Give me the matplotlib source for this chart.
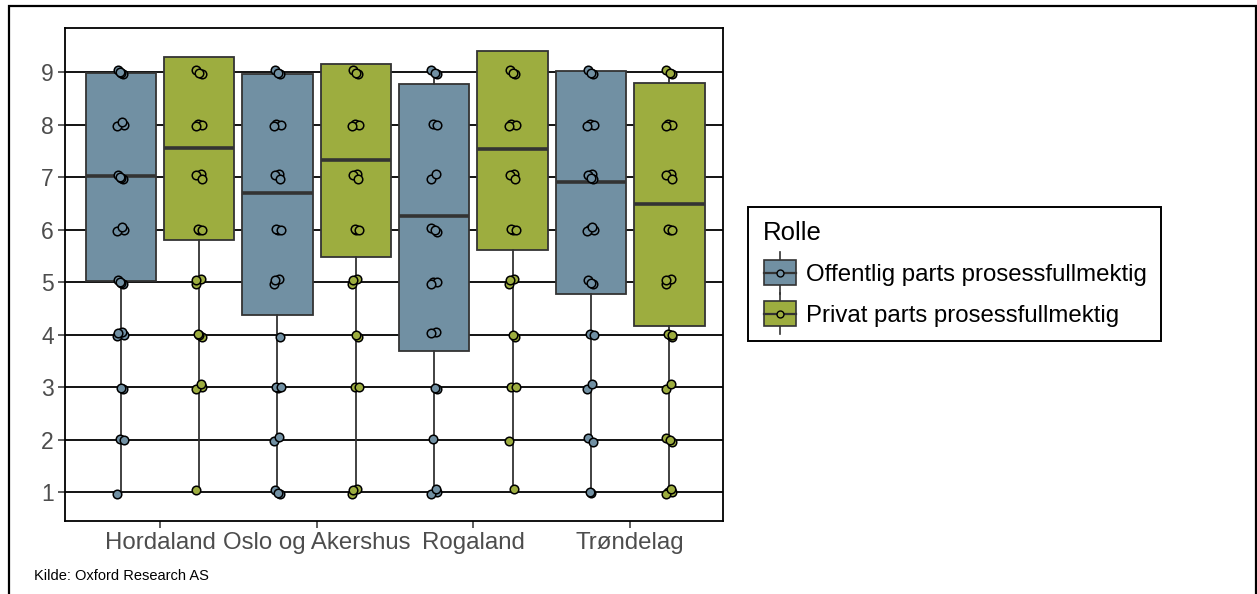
import matplotlib
matplotlib.use("Agg")
import matplotlib.pyplot as plt
from matplotlib.patches import Rectangle
from matplotlib.lines import Line2D
from matplotlib.legend_handler import HandlerBase
from matplotlib import font_manager
import numpy as np

# ---------------- data ----------------
regions = ["Hordaland", "Oslo og Akershus", "Rogaland", "Trøndelag"]
roles = ["Offentlig parts prosessfullmektig", "Privat parts prosessfullmektig"]

# box statistics
off_q1 = [5.02, 4.38, 3.69, 4.77]
off_med = [7.02, 6.69, 6.26, 6.90]
off_q3 = [8.98, 8.96, 8.77, 9.02]
priv_q1 = [5.80, 5.47, 5.61, 4.16]
priv_med = [7.56, 7.32, 7.53, 6.49]
priv_q3 = [9.28, 9.15, 9.40, 8.80]
whisk_lo = 1.0
whisk_hi = 9.0

# individual answers (score values) per group
off_hordaland = [9, 9, 9, 9, 8, 8, 8, 7, 7, 7, 7, 6, 6, 6, 5, 5, 5, 5, 4, 4, 4, 4, 3, 3, 2, 2, 1]
priv_hordaland = [9, 9, 9, 8, 8, 8, 7, 7, 7, 6, 6, 6, 5, 5, 5, 4, 4, 4, 3, 3, 3, 1]
off_oslo = [9, 9, 9, 8, 8, 8, 7, 7, 7, 6, 6, 6, 5, 5, 5, 4, 3, 3, 3, 2, 2, 1, 1, 1]
priv_oslo = [9, 9, 9, 8, 8, 8, 7, 7, 7, 6, 6, 6, 5, 5, 5, 4, 4, 3, 3, 1, 1, 1]
off_rogaland = [9, 9, 9, 8, 8, 7, 7, 6, 6, 6, 5, 5, 5, 4, 4, 3, 3, 2, 1, 1, 1]
priv_rogaland = [9, 9, 9, 8, 8, 8, 7, 7, 7, 6, 6, 6, 5, 5, 5, 4, 4, 3, 3, 2, 1]
off_trondelag = [9, 9, 9, 8, 8, 8, 7, 7, 7, 7, 6, 6, 6, 6, 5, 5, 5, 4, 4, 3, 3, 2, 2, 1, 1]
priv_trondelag = [9, 9, 9, 8, 8, 8, 7, 7, 7, 6, 6, 6, 5, 5, 5, 4, 4, 4, 4, 3, 3, 2, 2, 2, 1, 1, 1, 1]

off_points = [off_hordaland, off_oslo, off_rogaland, off_trondelag]
priv_points = [priv_hordaland, priv_oslo, priv_rogaland, priv_trondelag]

yticks = [1, 2, 3, 4, 5, 6, 7, 8, 9]
caption = "Kilde: Oxford Research AS"
legend_title = "Rolle"

# ---------------- style ----------------
C_OFF = "#7190A3"
C_PRIV = "#9DAD3F"
EDGE = "#333333"
GREY_TXT = "#4D4D4D"
DODGE = 0.25
BOX_W = 0.45
# fixed small dodge pattern for overlapping points (visual jitter)
JX = [-0.018, 0.016, 0.002, -0.008, 0.020, -0.022, 0.010]
JY = [0.035, -0.030, 0.010, -0.045, 0.050, 0.000, -0.015]

available = {f.name for f in font_manager.fontManager.ttflist}
BASE = "Liberation Sans" if "Liberation Sans" in available else "DejaVu Sans"
plt.rcParams["font.family"] = [BASE, "DejaVu Sans"]

W, H = 1257, 594
fig = plt.figure(figsize=(W / 100, H / 100), dpi=100)
ax = fig.add_axes([65 / W, 1 - 521 / H, (723 - 65) / W, (521 - 28) / H])

x = np.arange(1, len(regions) + 1)

for vals_q1, vals_med, vals_q3, pts, off, col in [
    (off_q1, off_med, off_q3, off_points, -DODGE, C_OFF),
    (priv_q1, priv_med, priv_q3, priv_points, DODGE, C_PRIV),
]:
    stats = []
    for i in range(len(regions)):
        stats.append(dict(med=vals_med[i], q1=vals_q1[i], q3=vals_q3[i],
                          whislo=min(whisk_lo, vals_q1[i]),
                          whishi=max(whisk_hi, vals_q3[i]), fliers=[]))
    ax.bxp(stats, positions=x + off, widths=BOX_W, patch_artist=True,
           showcaps=False, showfliers=False,
           boxprops=dict(facecolor=col, edgecolor=EDGE, linewidth=1.3),
           whiskerprops=dict(color=EDGE, linewidth=1.3),
           medianprops=dict(color=EDGE, linewidth=2.6),
           zorder=2)
    for i, p in enumerate(pts):
        p = np.asarray(p, dtype=float)
        k = np.arange(len(p))
        px = x[i] + off + np.take(JX, k % len(JX))
        py = p + np.take(JY, (k * 3) % len(JY))
        ax.scatter(px, py, s=38, facecolor=col, edgecolor="black",
                   linewidth=1.1, zorder=4)

for yv in yticks:
    ax.axhline(yv, color="black", linewidth=1.3, zorder=0.5)

ax.set_xlim(0.394, 4.593)
ax.set_ylim(0.45, 9.84)
ax.set_xticks(x)
ax.set_xticklabels(regions, fontsize=17.3, color=GREY_TXT)
ax.set_yticks(yticks)
ax.set_yticklabels([str(v) for v in yticks], fontsize=16.5, color=GREY_TXT)
ax.tick_params(axis="both", length=5, width=1.1, color="#333333", pad=3)
for s in ax.spines.values():
    s.set_color("black")
    s.set_linewidth(1.3)


class BoxHandler(HandlerBase):
    def __init__(self, color):
        super().__init__()
        self.color = color

    def create_artists(self, legend, orig_handle, xdescent, ydescent,
                       width, height, fontsize, trans):
        bw = 23
        bh = 18
        cx = -xdescent + width / 2
        cy = -ydescent + height / 2
        arts = []
        arts.append(Line2D([cx, cx], [cy - bh / 2 - 6, cy + bh / 2 + 6],
                           color=EDGE, linewidth=1.2, transform=trans))
        arts.append(Rectangle((cx - bw / 2, cy - bh / 2), bw, bh,
                              facecolor=self.color, edgecolor=EDGE,
                              linewidth=1.2, transform=trans))
        arts.append(Line2D([cx - bw / 2, cx + bw / 2], [cy, cy],
                           color=EDGE, linewidth=1.6, transform=trans))
        arts.append(Line2D([cx], [cy], marker="o", markersize=5,
                           markerfacecolor=self.color, markeredgecolor="black",
                           markeredgewidth=1.0, linestyle="none",
                           transform=trans))
        return arts


h_off = Rectangle((0, 0), 1, 1)
h_priv = Rectangle((0, 1), 1, 1)
leg = fig.legend([h_off, h_priv], roles,
                 handler_map={h_off: BoxHandler(C_OFF), h_priv: BoxHandler(C_PRIV)},
                 title=legend_title, loc="upper left",
                 bbox_to_anchor=(748 / W, 1 - 207 / H),
                 fontsize=17.3, title_fontsize=18.5, frameon=True,
                 fancybox=False, edgecolor="black", framealpha=1,
                 handlelength=1.45, handleheight=1.3, handletextpad=0.35,
                 borderpad=0.6, labelspacing=0.6, borderaxespad=0)
leg.get_frame().set_linewidth(1.4)
leg._legend_box.align = "left"

fig.text(34 / W, 1 - 576 / H, caption, fontsize=10.5,
         va="center", ha="left")

fig.patches.append(Rectangle((9 / W, -0.02), (1256 - 9) / W, 1 - 6 / H + 0.02,
                             transform=fig.transFigure, fill=False,
                             edgecolor="black", linewidth=1.6, zorder=10))

fig.savefig("out.png", dpi=100)
